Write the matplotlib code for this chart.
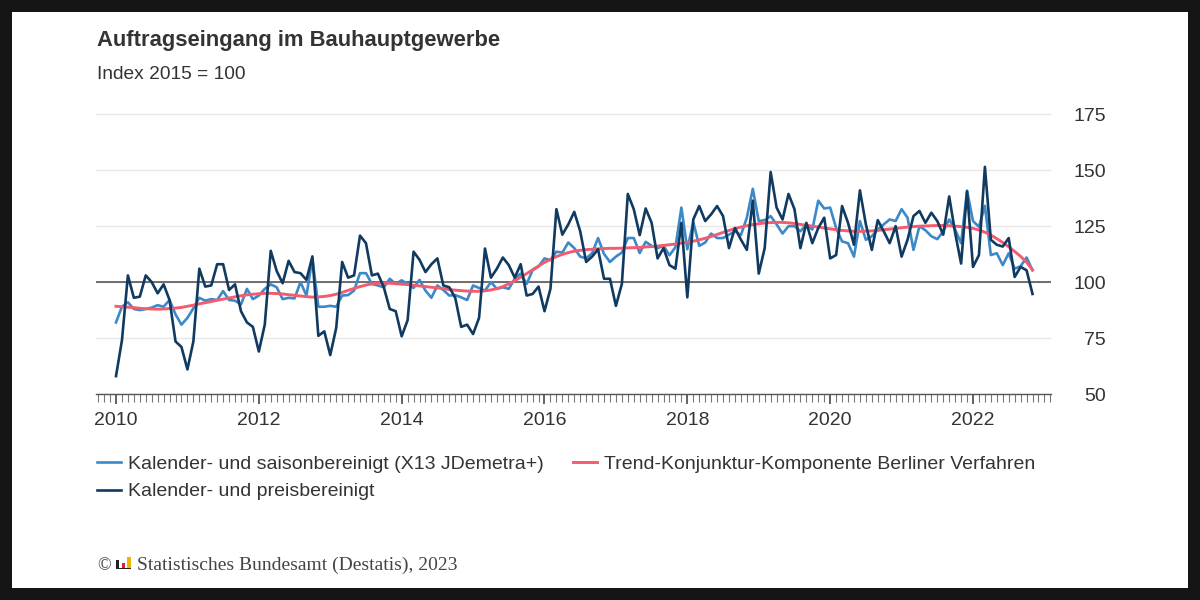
import numpy as np
import matplotlib
matplotlib.use("Agg")
import matplotlib.pyplot as plt
from matplotlib.patches import Rectangle
from matplotlib.ticker import MultipleLocator

plt.rcParams['font.family'] = ['Liberation Sans', 'DejaVu Sans']

# monthly values, Jan 2010 .. Nov 2022 (Index 2015 = 100)
preis = [
    58, 74, 103, 93, 93.5, 103, 100, 95, 99, 92, 73.5, 71,
    61, 73.5, 106, 98, 98.5, 108, 108, 96.5, 99, 87, 82, 80,
    69, 81, 114, 105, 99.5, 109.5, 104.5, 104, 101, 111.5, 76, 78,
    67.4, 79.5, 109, 102, 103, 120.8, 117.4, 103, 103.8, 97.7, 88, 87,
    75.8, 83, 113.6, 110, 104.5, 108, 110.6, 98.5, 97.7, 93, 80, 81,
    76.8, 84, 115, 102, 106, 111, 107.6, 102, 108, 94, 94.7, 98,
    87, 97, 132.6, 121.2, 125.8, 131.4, 122.7, 109, 111.4, 114.7, 101.5, 101.5,
    89.4, 99.2, 139.4, 132.6, 121, 132.9, 126.5, 110.6, 115.2, 107.6, 106, 126.5,
    93.2, 128, 134, 127.3, 130.3, 134, 129.5, 115.2, 124.2, 119, 114.4, 136.4,
    103.8, 115.2, 149.2, 133.3, 128, 139.4, 132.6, 115.2, 126.5, 117.4, 124.2, 128.8,
    110.6, 112.1, 134, 126.5, 116.7, 141, 125.8, 114.4, 127.7, 122.7, 117.4, 125,
    111.4, 118.9, 129.5, 131.8, 126.5, 131, 127.3, 121.2, 138.3, 122, 108.3, 140.5,
    106.8, 112.1, 151.5, 118.9, 116.7, 115.9, 119.7, 102.3, 106.8, 105.3, 94.7,
]

saison = [
    82, 89, 91, 88, 87.5, 88, 88.6, 89.7, 89, 92, 85.6, 81,
    84, 88.3, 93, 91.7, 92.4, 92, 96, 92, 91.7, 90, 97, 92.4,
    94, 97, 99, 97.7, 92.4, 93, 92.7, 100, 94, 110.6, 89, 89,
    89.4, 89, 94, 94.2, 96.2, 104, 104, 99.2, 98.5, 97.7, 101.5, 99.2,
    100.8, 99.2, 97.4, 101, 96.2, 93, 98.5, 96.5, 94, 94.2, 93.2, 92,
    98.5, 97.4, 96.2, 100, 97, 97.7, 97, 101.5, 103.8, 99.2, 105.3, 107,
    110.6, 109.8, 113.6, 113.2, 117.7, 115.2, 111.4, 110.6, 112.9, 119.7, 112.6, 109,
    111.4, 113.2, 119.7, 119.7, 113, 118, 116.2, 115.2, 116.2, 112, 115.6, 133.3,
    114.7, 126.8, 116.2, 117.7, 121.7, 119.7, 119.7, 121.2, 122.7, 121, 128.8, 141.7,
    127.3, 127.7, 129.5, 125.8, 121.7, 125, 125, 122.7, 125.8, 123.5, 136.4, 132.9,
    133.3, 124.2, 118.2, 117.4, 111.4, 127.3, 118.9, 120.5, 123.5, 125.8, 128, 127.3,
    132.6, 128.8, 114.4, 125, 123.2, 120.5, 119.2, 122.7, 128, 123.5, 117.4, 140.9,
    127.3, 124.7, 134.1, 112.1, 112.9, 107.6, 112.9, 106, 107.1, 111, 105.3,
]

trend = [
    89.2, 89.0, 88.8, 88.6, 88.3, 88.1, 88.0, 87.9, 88.0, 88.2, 88.4, 88.7,
    89.2, 89.7, 90.3, 90.8, 91.3, 91.9, 92.4, 92.9, 93.4, 93.9, 94.3, 94.6,
    94.8, 95.0, 95.0, 94.9, 94.7, 94.4, 94.1, 93.8, 93.5, 93.3, 93.4, 93.6,
    94.0, 94.6, 95.4, 96.3, 97.2, 98.0, 98.7, 99.2, 99.5, 99.6, 99.5, 99.3,
    99.1, 98.9, 98.6, 98.3, 98.0, 97.7, 97.4, 97.1, 96.7, 96.4, 96.2, 96.0,
    95.9, 95.9, 96.1, 96.5, 97.1, 98.0, 99.2, 100.6, 102.2, 103.8, 105.5, 107.2,
    108.8, 110.2, 111.4, 112.4, 113.2, 113.8, 114.2, 114.5, 114.7, 114.9, 115.0, 115.1,
    115.1, 115.2, 115.3, 115.4, 115.5, 115.7, 115.9, 116.1, 116.4, 116.7, 117.0, 117.4,
    117.8, 118.3, 118.9, 119.6, 120.4, 121.3, 122.2, 123.1, 123.9, 124.6, 125.2, 125.7,
    126.1, 126.4, 126.6, 126.7, 126.7, 126.5, 126.2, 125.8, 125.4, 125.0, 124.6, 124.2,
    123.8, 123.4, 123.1, 122.9, 122.7, 122.7, 122.8, 122.9, 123.1, 123.4, 123.7, 124.0,
    124.3, 124.6, 124.8, 125.0, 125.1, 125.2, 125.3, 125.3, 125.2, 125.0, 124.8, 124.5,
    124.0, 123.3, 122.3, 121.0, 119.4, 117.7, 115.8, 113.7, 111.5, 108.9, 105.5,
]

year_labels = ['2010', '2012', '2014', '2016', '2018', '2020', '2022']
y_ticks = [50, 75, 100, 125, 150, 175]

x = np.arange(len(preis))

fig = plt.figure(figsize=(12, 6), dpi=100, facecolor='#151515')
fig.patches.append(Rectangle((0.01, 0.02), 0.98, 0.96, transform=fig.transFigure,
                             facecolor='white', edgecolor='none', zorder=-5))

ax = fig.add_axes([0.08, 0.3433, 0.7958, 0.4737])
ax.set_facecolor('white')

ax.plot(x, saison, color='#3c89c9', lw=1.9, label='Kalender- und saisonbereinigt (X13 JDemetra+)', zorder=3)
ax.plot(x, preis, color='#103a60', lw=1.9, label='Kalender- und preisbereinigt', zorder=5)
ax.plot(x, trend, color='#f25c6e', lw=2.1, label='Trend-Konjunktur-Komponente Berliner Verfahren', zorder=4)
ax.axhline(100, color='#4a4a4a', lw=1.1, zorder=2)

ax.set_xlim(-3.36, 157.1)
ax.set_ylim(50, 177)
ax.set_yticks(y_ticks)
ax.yaxis.tick_right()
ax.tick_params(axis='y', length=0, pad=39.6, labelsize=14, labelcolor='#333333')
for lab in ax.get_yticklabels():
    lab.set_horizontalalignment('right')
ax.yaxis.grid(True, color='#e6e6e6', lw=1)
ax.set_axisbelow(True)

ax.set_xticks(np.arange(0, 145, 24))
ax.set_xticklabels(year_labels)
ax.xaxis.set_minor_locator(MultipleLocator(1))
ax.tick_params(axis='x', which='major', length=7, width=1.3, color='#555555',
               labelsize=14, labelcolor='#333333', pad=6)
ax.tick_params(axis='x', which='minor', length=6, width=0.8, color='#777777')

for s in ['top', 'left', 'right']:
    ax.spines[s].set_visible(False)
ax.spines['bottom'].set_color('#555555')
ax.spines['bottom'].set_linewidth(1)

fig.text(0.081, 0.923, 'Auftragseingang im Bauhauptgewerbe', fontsize=15.8,
         fontweight='bold', color='#333333', va='baseline')
fig.text(0.081, 0.869, 'Index 2015 = 100', fontsize=13.8, color='#333333', va='baseline')

handles, labels = ax.get_legend_handles_labels()
fig.legend(handles, labels, ncol=2, loc='upper left', bbox_to_anchor=(0.0808, 0.241),
           frameon=False, fontsize=14, handlelength=1.24, handletextpad=0.36,
           columnspacing=1.5, labelspacing=0.5, borderpad=0, borderaxespad=0,
           labelcolor='#333333')

# footer with Destatis mark
fig.text(0.081, 0.05, '\u00a9', fontsize=13, family='Liberation Serif', color='#444444', va='baseline')
fig.patches.append(Rectangle((116 / 1200, 1 - 568 / 600), 3 / 1200, 8 / 600,
                             transform=fig.transFigure, facecolor='#222222', edgecolor='none'))
fig.patches.append(Rectangle((122 / 1200, 1 - 568 / 600), 3 / 1200, 5 / 600,
                             transform=fig.transFigure, facecolor='#d7262b', edgecolor='none'))
fig.patches.append(Rectangle((127 / 1200, 1 - 568 / 600), 4 / 1200, 11 / 600,
                             transform=fig.transFigure, facecolor='#f0b400', edgecolor='none'))
fig.patches.append(Rectangle((116 / 1200, 1 - 569 / 600), 15 / 1200, 1.5 / 600,
                             transform=fig.transFigure, facecolor='#222222', edgecolor='none'))
fig.text(137 / 1200, 0.05, 'Statistisches Bundesamt (Destatis), 2023', fontsize=14,
         family='Liberation Serif', color='#444444', va='baseline')

fig.savefig('out.png', dpi=100, facecolor=fig.get_facecolor())
